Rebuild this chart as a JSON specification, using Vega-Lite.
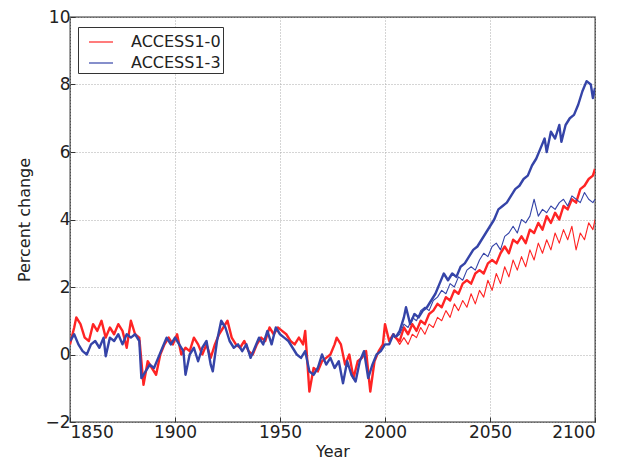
{
  "$schema": "https://vega.github.io/schema/vega-lite/v6.json",
  "width": 525,
  "height": 405,
  "autosize": {"type": "none"},
  "padding": {"left": 70, "top": 17, "right": 35, "bottom": 39},
  "background": "white",
  "config": {
    "view": {"stroke": "#333333", "strokeWidth": 1.3},
    "font": "DejaVu Sans",
    "axis": {
      "labelFont": "DejaVu Sans", "titleFont": "DejaVu Sans",
      "labelFontSize": 17, "titleFontSize": 16, "titleFontWeight": "normal",
      "labelColor": "#222222", "titleColor": "#222222",
      "domain": false, "grid": true, "gridColor": "#aaaaaa", "gridDash": [1, 2], "gridWidth": 1,
      "ticks": true, "tickColor": "#333333", "tickSize": -5, "tickWidth": 1
    }
  },
  "data": {"values": [
    {"model":"ACCESS1-0","run":"historical","year":1850,"pct":0.3},{"model":"ACCESS1-0","run":"historical","year":1852,"pct":0.8},{"model":"ACCESS1-0","run":"historical","year":1853,"pct":1.1},{"model":"ACCESS1-0","run":"historical","year":1855,"pct":0.9},{"model":"ACCESS1-0","run":"historical","year":1857,"pct":0.5},{"model":"ACCESS1-0","run":"historical","year":1859,"pct":0.4},{"model":"ACCESS1-0","run":"historical","year":1861,"pct":0.9},{"model":"ACCESS1-0","run":"historical","year":1863,"pct":0.7},{"model":"ACCESS1-0","run":"historical","year":1865,"pct":1.0},{"model":"ACCESS1-0","run":"historical","year":1867,"pct":0.5},{"model":"ACCESS1-0","run":"historical","year":1869,"pct":0.8},{"model":"ACCESS1-0","run":"historical","year":1871,"pct":0.6},{"model":"ACCESS1-0","run":"historical","year":1873,"pct":0.9},{"model":"ACCESS1-0","run":"historical","year":1875,"pct":0.7},{"model":"ACCESS1-0","run":"historical","year":1877,"pct":0.2},{"model":"ACCESS1-0","run":"historical","year":1879,"pct":1.0},{"model":"ACCESS1-0","run":"historical","year":1881,"pct":0.6},{"model":"ACCESS1-0","run":"historical","year":1883,"pct":0.5},{"model":"ACCESS1-0","run":"historical","year":1885,"pct":-0.9},{"model":"ACCESS1-0","run":"historical","year":1887,"pct":-0.2},{"model":"ACCESS1-0","run":"historical","year":1889,"pct":-0.4},{"model":"ACCESS1-0","run":"historical","year":1891,"pct":-0.6},{"model":"ACCESS1-0","run":"historical","year":1893,"pct":0.0},{"model":"ACCESS1-0","run":"historical","year":1895,"pct":0.3},{"model":"ACCESS1-0","run":"historical","year":1897,"pct":0.5},{"model":"ACCESS1-0","run":"historical","year":1899,"pct":0.3},{"model":"ACCESS1-0","run":"historical","year":1901,"pct":0.6},{"model":"ACCESS1-0","run":"historical","year":1903,"pct":0.0},{"model":"ACCESS1-0","run":"historical","year":1905,"pct":0.2},{"model":"ACCESS1-0","run":"historical","year":1907,"pct":0.1},{"model":"ACCESS1-0","run":"historical","year":1909,"pct":0.5},{"model":"ACCESS1-0","run":"historical","year":1911,"pct":0.3},{"model":"ACCESS1-0","run":"historical","year":1913,"pct":0.0},{"model":"ACCESS1-0","run":"historical","year":1915,"pct":0.3},{"model":"ACCESS1-0","run":"historical","year":1917,"pct":-0.1},{"model":"ACCESS1-0","run":"historical","year":1919,"pct":0.3},{"model":"ACCESS1-0","run":"historical","year":1921,"pct":0.6},{"model":"ACCESS1-0","run":"historical","year":1923,"pct":0.8},{"model":"ACCESS1-0","run":"historical","year":1925,"pct":1.0},{"model":"ACCESS1-0","run":"historical","year":1927,"pct":0.5},{"model":"ACCESS1-0","run":"historical","year":1929,"pct":0.3},{"model":"ACCESS1-0","run":"historical","year":1931,"pct":0.2},{"model":"ACCESS1-0","run":"historical","year":1933,"pct":0.4},{"model":"ACCESS1-0","run":"historical","year":1935,"pct":0.1},{"model":"ACCESS1-0","run":"historical","year":1937,"pct":0.0},{"model":"ACCESS1-0","run":"historical","year":1939,"pct":0.3},{"model":"ACCESS1-0","run":"historical","year":1941,"pct":0.5},{"model":"ACCESS1-0","run":"historical","year":1943,"pct":0.4},{"model":"ACCESS1-0","run":"historical","year":1945,"pct":0.8},{"model":"ACCESS1-0","run":"historical","year":1947,"pct":0.6},{"model":"ACCESS1-0","run":"historical","year":1949,"pct":0.8},{"model":"ACCESS1-0","run":"historical","year":1951,"pct":0.7},{"model":"ACCESS1-0","run":"historical","year":1953,"pct":0.6},{"model":"ACCESS1-0","run":"historical","year":1955,"pct":0.4},{"model":"ACCESS1-0","run":"historical","year":1957,"pct":0.3},{"model":"ACCESS1-0","run":"historical","year":1959,"pct":0.5},{"model":"ACCESS1-0","run":"historical","year":1961,"pct":0.3},{"model":"ACCESS1-0","run":"historical","year":1962,"pct":0.7},{"model":"ACCESS1-0","run":"historical","year":1964,"pct":-1.1},{"model":"ACCESS1-0","run":"historical","year":1966,"pct":-0.4},{"model":"ACCESS1-0","run":"historical","year":1968,"pct":-0.5},{"model":"ACCESS1-0","run":"historical","year":1970,"pct":-0.2},{"model":"ACCESS1-0","run":"historical","year":1972,"pct":-0.1},{"model":"ACCESS1-0","run":"historical","year":1974,"pct":0.0},{"model":"ACCESS1-0","run":"historical","year":1976,"pct":0.3},{"model":"ACCESS1-0","run":"historical","year":1977,"pct":0.5},{"model":"ACCESS1-0","run":"historical","year":1979,"pct":0.3},{"model":"ACCESS1-0","run":"historical","year":1981,"pct":-0.3},{"model":"ACCESS1-0","run":"historical","year":1983,"pct":0.0},{"model":"ACCESS1-0","run":"historical","year":1985,"pct":-0.7},{"model":"ACCESS1-0","run":"historical","year":1987,"pct":-0.2},{"model":"ACCESS1-0","run":"historical","year":1989,"pct":-0.1},{"model":"ACCESS1-0","run":"historical","year":1991,"pct":0.1},{"model":"ACCESS1-0","run":"historical","year":1993,"pct":-1.1},{"model":"ACCESS1-0","run":"historical","year":1995,"pct":-0.2},{"model":"ACCESS1-0","run":"historical","year":1997,"pct":0.1},{"model":"ACCESS1-0","run":"historical","year":1999,"pct":0.3},{"model":"ACCESS1-0","run":"historical","year":2000,"pct":0.9},{"model":"ACCESS1-0","run":"historical","year":2002,"pct":0.4},{"model":"ACCESS1-0","run":"historical","year":2004,"pct":0.6},{"model":"ACCESS1-0","run":"historical","year":2005,"pct":0.5},
    {"model":"ACCESS1-3","run":"historical","year":1850,"pct":0.4},{"model":"ACCESS1-3","run":"historical","year":1852,"pct":0.6},{"model":"ACCESS1-3","run":"historical","year":1854,"pct":0.3},{"model":"ACCESS1-3","run":"historical","year":1856,"pct":0.1},{"model":"ACCESS1-3","run":"historical","year":1858,"pct":0.0},{"model":"ACCESS1-3","run":"historical","year":1860,"pct":0.3},{"model":"ACCESS1-3","run":"historical","year":1862,"pct":0.4},{"model":"ACCESS1-3","run":"historical","year":1864,"pct":0.2},{"model":"ACCESS1-3","run":"historical","year":1866,"pct":0.5},{"model":"ACCESS1-3","run":"historical","year":1867,"pct":-0.05},{"model":"ACCESS1-3","run":"historical","year":1869,"pct":0.5},{"model":"ACCESS1-3","run":"historical","year":1871,"pct":0.4},{"model":"ACCESS1-3","run":"historical","year":1873,"pct":0.6},{"model":"ACCESS1-3","run":"historical","year":1875,"pct":0.3},{"model":"ACCESS1-3","run":"historical","year":1877,"pct":0.6},{"model":"ACCESS1-3","run":"historical","year":1879,"pct":0.5},{"model":"ACCESS1-3","run":"historical","year":1881,"pct":0.6},{"model":"ACCESS1-3","run":"historical","year":1883,"pct":0.4},{"model":"ACCESS1-3","run":"historical","year":1884,"pct":-0.7},{"model":"ACCESS1-3","run":"historical","year":1886,"pct":-0.5},{"model":"ACCESS1-3","run":"historical","year":1888,"pct":-0.3},{"model":"ACCESS1-3","run":"historical","year":1890,"pct":-0.4},{"model":"ACCESS1-3","run":"historical","year":1892,"pct":-0.1},{"model":"ACCESS1-3","run":"historical","year":1894,"pct":0.2},{"model":"ACCESS1-3","run":"historical","year":1896,"pct":0.5},{"model":"ACCESS1-3","run":"historical","year":1898,"pct":0.3},{"model":"ACCESS1-3","run":"historical","year":1900,"pct":0.5},{"model":"ACCESS1-3","run":"historical","year":1902,"pct":0.3},{"model":"ACCESS1-3","run":"historical","year":1904,"pct":0.1},{"model":"ACCESS1-3","run":"historical","year":1905,"pct":-0.6},{"model":"ACCESS1-3","run":"historical","year":1907,"pct":0.0},{"model":"ACCESS1-3","run":"historical","year":1909,"pct":0.2},{"model":"ACCESS1-3","run":"historical","year":1911,"pct":-0.2},{"model":"ACCESS1-3","run":"historical","year":1913,"pct":0.2},{"model":"ACCESS1-3","run":"historical","year":1915,"pct":0.4},{"model":"ACCESS1-3","run":"historical","year":1917,"pct":-0.3},{"model":"ACCESS1-3","run":"historical","year":1918,"pct":-0.5},{"model":"ACCESS1-3","run":"historical","year":1920,"pct":0.4},{"model":"ACCESS1-3","run":"historical","year":1922,"pct":1.0},{"model":"ACCESS1-3","run":"historical","year":1924,"pct":0.8},{"model":"ACCESS1-3","run":"historical","year":1926,"pct":0.4},{"model":"ACCESS1-3","run":"historical","year":1928,"pct":0.2},{"model":"ACCESS1-3","run":"historical","year":1930,"pct":0.3},{"model":"ACCESS1-3","run":"historical","year":1932,"pct":0.1},{"model":"ACCESS1-3","run":"historical","year":1934,"pct":0.3},{"model":"ACCESS1-3","run":"historical","year":1936,"pct":-0.1},{"model":"ACCESS1-3","run":"historical","year":1938,"pct":0.2},{"model":"ACCESS1-3","run":"historical","year":1940,"pct":0.5},{"model":"ACCESS1-3","run":"historical","year":1942,"pct":0.3},{"model":"ACCESS1-3","run":"historical","year":1944,"pct":0.7},{"model":"ACCESS1-3","run":"historical","year":1946,"pct":0.3},{"model":"ACCESS1-3","run":"historical","year":1948,"pct":0.8},{"model":"ACCESS1-3","run":"historical","year":1950,"pct":0.6},{"model":"ACCESS1-3","run":"historical","year":1952,"pct":0.5},{"model":"ACCESS1-3","run":"historical","year":1954,"pct":0.4},{"model":"ACCESS1-3","run":"historical","year":1956,"pct":0.2},{"model":"ACCESS1-3","run":"historical","year":1958,"pct":0.0},{"model":"ACCESS1-3","run":"historical","year":1960,"pct":-0.1},{"model":"ACCESS1-3","run":"historical","year":1962,"pct":0.1},{"model":"ACCESS1-3","run":"historical","year":1964,"pct":-0.5},{"model":"ACCESS1-3","run":"historical","year":1966,"pct":-0.6},{"model":"ACCESS1-3","run":"historical","year":1968,"pct":-0.4},{"model":"ACCESS1-3","run":"historical","year":1970,"pct":0.0},{"model":"ACCESS1-3","run":"historical","year":1972,"pct":-0.3},{"model":"ACCESS1-3","run":"historical","year":1974,"pct":-0.1},{"model":"ACCESS1-3","run":"historical","year":1976,"pct":-0.4},{"model":"ACCESS1-3","run":"historical","year":1978,"pct":-0.2},{"model":"ACCESS1-3","run":"historical","year":1980,"pct":-0.85},{"model":"ACCESS1-3","run":"historical","year":1982,"pct":-0.2},{"model":"ACCESS1-3","run":"historical","year":1984,"pct":-0.6},{"model":"ACCESS1-3","run":"historical","year":1986,"pct":-0.8},{"model":"ACCESS1-3","run":"historical","year":1988,"pct":-0.2},{"model":"ACCESS1-3","run":"historical","year":1990,"pct":0.1},{"model":"ACCESS1-3","run":"historical","year":1992,"pct":-0.7},{"model":"ACCESS1-3","run":"historical","year":1994,"pct":-0.3},{"model":"ACCESS1-3","run":"historical","year":1996,"pct":0.0},{"model":"ACCESS1-3","run":"historical","year":1998,"pct":0.1},{"model":"ACCESS1-3","run":"historical","year":2000,"pct":0.3},{"model":"ACCESS1-3","run":"historical","year":2002,"pct":0.3},{"model":"ACCESS1-3","run":"historical","year":2004,"pct":0.6},{"model":"ACCESS1-3","run":"historical","year":2005,"pct":0.5},
    {"model":"ACCESS1-3","run":"rcp85","year":2005,"pct":0.5},{"model":"ACCESS1-3","run":"rcp85","year":2007,"pct":0.7},{"model":"ACCESS1-3","run":"rcp85","year":2009,"pct":1.1},{"model":"ACCESS1-3","run":"rcp85","year":2010,"pct":1.4},{"model":"ACCESS1-3","run":"rcp85","year":2012,"pct":0.9},{"model":"ACCESS1-3","run":"rcp85","year":2014,"pct":1.2},{"model":"ACCESS1-3","run":"rcp85","year":2016,"pct":1.1},{"model":"ACCESS1-3","run":"rcp85","year":2018,"pct":1.3},{"model":"ACCESS1-3","run":"rcp85","year":2020,"pct":1.4},{"model":"ACCESS1-3","run":"rcp85","year":2022,"pct":1.6},{"model":"ACCESS1-3","run":"rcp85","year":2024,"pct":1.8},{"model":"ACCESS1-3","run":"rcp85","year":2026,"pct":2.1},{"model":"ACCESS1-3","run":"rcp85","year":2028,"pct":2.4},{"model":"ACCESS1-3","run":"rcp85","year":2030,"pct":2.2},{"model":"ACCESS1-3","run":"rcp85","year":2032,"pct":2.4},{"model":"ACCESS1-3","run":"rcp85","year":2034,"pct":2.3},{"model":"ACCESS1-3","run":"rcp85","year":2036,"pct":2.6},{"model":"ACCESS1-3","run":"rcp85","year":2038,"pct":2.7},{"model":"ACCESS1-3","run":"rcp85","year":2040,"pct":2.9},{"model":"ACCESS1-3","run":"rcp85","year":2042,"pct":3.1},{"model":"ACCESS1-3","run":"rcp85","year":2044,"pct":3.2},{"model":"ACCESS1-3","run":"rcp85","year":2046,"pct":3.4},{"model":"ACCESS1-3","run":"rcp85","year":2048,"pct":3.6},{"model":"ACCESS1-3","run":"rcp85","year":2050,"pct":3.8},{"model":"ACCESS1-3","run":"rcp85","year":2052,"pct":4.0},{"model":"ACCESS1-3","run":"rcp85","year":2054,"pct":4.3},{"model":"ACCESS1-3","run":"rcp85","year":2056,"pct":4.4},{"model":"ACCESS1-3","run":"rcp85","year":2058,"pct":4.5},{"model":"ACCESS1-3","run":"rcp85","year":2060,"pct":4.7},{"model":"ACCESS1-3","run":"rcp85","year":2062,"pct":4.9},{"model":"ACCESS1-3","run":"rcp85","year":2064,"pct":5.0},{"model":"ACCESS1-3","run":"rcp85","year":2066,"pct":5.2},{"model":"ACCESS1-3","run":"rcp85","year":2068,"pct":5.3},{"model":"ACCESS1-3","run":"rcp85","year":2070,"pct":5.6},{"model":"ACCESS1-3","run":"rcp85","year":2072,"pct":5.8},{"model":"ACCESS1-3","run":"rcp85","year":2074,"pct":6.1},{"model":"ACCESS1-3","run":"rcp85","year":2076,"pct":6.4},{"model":"ACCESS1-3","run":"rcp85","year":2077,"pct":6.0},{"model":"ACCESS1-3","run":"rcp85","year":2079,"pct":6.6},{"model":"ACCESS1-3","run":"rcp85","year":2081,"pct":6.4},{"model":"ACCESS1-3","run":"rcp85","year":2083,"pct":6.8},{"model":"ACCESS1-3","run":"rcp85","year":2084,"pct":6.3},{"model":"ACCESS1-3","run":"rcp85","year":2086,"pct":6.8},{"model":"ACCESS1-3","run":"rcp85","year":2088,"pct":7.0},{"model":"ACCESS1-3","run":"rcp85","year":2090,"pct":7.1},{"model":"ACCESS1-3","run":"rcp85","year":2092,"pct":7.4},{"model":"ACCESS1-3","run":"rcp85","year":2094,"pct":7.8},{"model":"ACCESS1-3","run":"rcp85","year":2096,"pct":8.1},{"model":"ACCESS1-3","run":"rcp85","year":2098,"pct":8.0},{"model":"ACCESS1-3","run":"rcp85","year":2099,"pct":7.6},{"model":"ACCESS1-3","run":"rcp85","year":2100,"pct":7.9},
    {"model":"ACCESS1-3","run":"rcp45","year":2005,"pct":0.5},{"model":"ACCESS1-3","run":"rcp45","year":2007,"pct":0.6},{"model":"ACCESS1-3","run":"rcp45","year":2009,"pct":0.9},{"model":"ACCESS1-3","run":"rcp45","year":2011,"pct":0.8},{"model":"ACCESS1-3","run":"rcp45","year":2013,"pct":1.1},{"model":"ACCESS1-3","run":"rcp45","year":2015,"pct":1.0},{"model":"ACCESS1-3","run":"rcp45","year":2017,"pct":1.3},{"model":"ACCESS1-3","run":"rcp45","year":2019,"pct":1.4},{"model":"ACCESS1-3","run":"rcp45","year":2021,"pct":1.3},{"model":"ACCESS1-3","run":"rcp45","year":2023,"pct":1.6},{"model":"ACCESS1-3","run":"rcp45","year":2025,"pct":1.7},{"model":"ACCESS1-3","run":"rcp45","year":2027,"pct":1.9},{"model":"ACCESS1-3","run":"rcp45","year":2029,"pct":1.8},{"model":"ACCESS1-3","run":"rcp45","year":2031,"pct":2.1},{"model":"ACCESS1-3","run":"rcp45","year":2033,"pct":2.0},{"model":"ACCESS1-3","run":"rcp45","year":2035,"pct":2.3},{"model":"ACCESS1-3","run":"rcp45","year":2037,"pct":2.2},{"model":"ACCESS1-3","run":"rcp45","year":2039,"pct":2.5},{"model":"ACCESS1-3","run":"rcp45","year":2041,"pct":2.6},{"model":"ACCESS1-3","run":"rcp45","year":2043,"pct":2.5},{"model":"ACCESS1-3","run":"rcp45","year":2045,"pct":2.8},{"model":"ACCESS1-3","run":"rcp45","year":2047,"pct":3.0},{"model":"ACCESS1-3","run":"rcp45","year":2049,"pct":2.9},{"model":"ACCESS1-3","run":"rcp45","year":2051,"pct":3.2},{"model":"ACCESS1-3","run":"rcp45","year":2053,"pct":3.3},{"model":"ACCESS1-3","run":"rcp45","year":2055,"pct":3.1},{"model":"ACCESS1-3","run":"rcp45","year":2057,"pct":3.5},{"model":"ACCESS1-3","run":"rcp45","year":2059,"pct":3.6},{"model":"ACCESS1-3","run":"rcp45","year":2061,"pct":3.8},{"model":"ACCESS1-3","run":"rcp45","year":2063,"pct":3.6},{"model":"ACCESS1-3","run":"rcp45","year":2065,"pct":4.0},{"model":"ACCESS1-3","run":"rcp45","year":2067,"pct":3.9},{"model":"ACCESS1-3","run":"rcp45","year":2069,"pct":4.1},{"model":"ACCESS1-3","run":"rcp45","year":2071,"pct":4.6},{"model":"ACCESS1-3","run":"rcp45","year":2073,"pct":4.1},{"model":"ACCESS1-3","run":"rcp45","year":2075,"pct":4.3},{"model":"ACCESS1-3","run":"rcp45","year":2077,"pct":4.2},{"model":"ACCESS1-3","run":"rcp45","year":2079,"pct":4.4},{"model":"ACCESS1-3","run":"rcp45","year":2081,"pct":4.3},{"model":"ACCESS1-3","run":"rcp45","year":2083,"pct":4.5},{"model":"ACCESS1-3","run":"rcp45","year":2085,"pct":4.6},{"model":"ACCESS1-3","run":"rcp45","year":2087,"pct":4.4},{"model":"ACCESS1-3","run":"rcp45","year":2089,"pct":4.7},{"model":"ACCESS1-3","run":"rcp45","year":2091,"pct":4.6},{"model":"ACCESS1-3","run":"rcp45","year":2093,"pct":4.5},{"model":"ACCESS1-3","run":"rcp45","year":2095,"pct":4.8},{"model":"ACCESS1-3","run":"rcp45","year":2097,"pct":4.6},{"model":"ACCESS1-3","run":"rcp45","year":2099,"pct":4.5},{"model":"ACCESS1-3","run":"rcp45","year":2100,"pct":4.6},
    {"model":"ACCESS1-0","run":"rcp85","year":2005,"pct":0.5},{"model":"ACCESS1-0","run":"rcp85","year":2007,"pct":0.4},{"model":"ACCESS1-0","run":"rcp85","year":2009,"pct":0.8},{"model":"ACCESS1-0","run":"rcp85","year":2011,"pct":0.6},{"model":"ACCESS1-0","run":"rcp85","year":2013,"pct":0.9},{"model":"ACCESS1-0","run":"rcp85","year":2015,"pct":0.7},{"model":"ACCESS1-0","run":"rcp85","year":2017,"pct":1.0},{"model":"ACCESS1-0","run":"rcp85","year":2019,"pct":0.9},{"model":"ACCESS1-0","run":"rcp85","year":2021,"pct":1.2},{"model":"ACCESS1-0","run":"rcp85","year":2023,"pct":1.3},{"model":"ACCESS1-0","run":"rcp85","year":2025,"pct":1.5},{"model":"ACCESS1-0","run":"rcp85","year":2027,"pct":1.4},{"model":"ACCESS1-0","run":"rcp85","year":2029,"pct":1.7},{"model":"ACCESS1-0","run":"rcp85","year":2031,"pct":1.6},{"model":"ACCESS1-0","run":"rcp85","year":2033,"pct":1.9},{"model":"ACCESS1-0","run":"rcp85","year":2035,"pct":1.8},{"model":"ACCESS1-0","run":"rcp85","year":2037,"pct":2.1},{"model":"ACCESS1-0","run":"rcp85","year":2039,"pct":2.2},{"model":"ACCESS1-0","run":"rcp85","year":2041,"pct":2.1},{"model":"ACCESS1-0","run":"rcp85","year":2043,"pct":2.4},{"model":"ACCESS1-0","run":"rcp85","year":2045,"pct":2.5},{"model":"ACCESS1-0","run":"rcp85","year":2047,"pct":2.4},{"model":"ACCESS1-0","run":"rcp85","year":2049,"pct":2.7},{"model":"ACCESS1-0","run":"rcp85","year":2051,"pct":2.8},{"model":"ACCESS1-0","run":"rcp85","year":2053,"pct":2.7},{"model":"ACCESS1-0","run":"rcp85","year":2055,"pct":3.0},{"model":"ACCESS1-0","run":"rcp85","year":2057,"pct":3.2},{"model":"ACCESS1-0","run":"rcp85","year":2059,"pct":3.0},{"model":"ACCESS1-0","run":"rcp85","year":2061,"pct":3.4},{"model":"ACCESS1-0","run":"rcp85","year":2063,"pct":3.3},{"model":"ACCESS1-0","run":"rcp85","year":2065,"pct":3.5},{"model":"ACCESS1-0","run":"rcp85","year":2067,"pct":3.3},{"model":"ACCESS1-0","run":"rcp85","year":2069,"pct":3.7},{"model":"ACCESS1-0","run":"rcp85","year":2071,"pct":3.6},{"model":"ACCESS1-0","run":"rcp85","year":2073,"pct":3.9},{"model":"ACCESS1-0","run":"rcp85","year":2075,"pct":3.7},{"model":"ACCESS1-0","run":"rcp85","year":2077,"pct":4.1},{"model":"ACCESS1-0","run":"rcp85","year":2079,"pct":3.9},{"model":"ACCESS1-0","run":"rcp85","year":2081,"pct":4.2},{"model":"ACCESS1-0","run":"rcp85","year":2083,"pct":4.0},{"model":"ACCESS1-0","run":"rcp85","year":2085,"pct":4.4},{"model":"ACCESS1-0","run":"rcp85","year":2087,"pct":4.3},{"model":"ACCESS1-0","run":"rcp85","year":2089,"pct":4.6},{"model":"ACCESS1-0","run":"rcp85","year":2091,"pct":4.5},{"model":"ACCESS1-0","run":"rcp85","year":2093,"pct":4.9},{"model":"ACCESS1-0","run":"rcp85","year":2095,"pct":5.0},{"model":"ACCESS1-0","run":"rcp85","year":2097,"pct":5.2},{"model":"ACCESS1-0","run":"rcp85","year":2099,"pct":5.3},{"model":"ACCESS1-0","run":"rcp85","year":2100,"pct":5.5},
    {"model":"ACCESS1-0","run":"rcp45","year":2005,"pct":0.5},{"model":"ACCESS1-0","run":"rcp45","year":2007,"pct":0.3},{"model":"ACCESS1-0","run":"rcp45","year":2009,"pct":0.5},{"model":"ACCESS1-0","run":"rcp45","year":2011,"pct":0.3},{"model":"ACCESS1-0","run":"rcp45","year":2013,"pct":0.6},{"model":"ACCESS1-0","run":"rcp45","year":2015,"pct":0.5},{"model":"ACCESS1-0","run":"rcp45","year":2017,"pct":0.8},{"model":"ACCESS1-0","run":"rcp45","year":2019,"pct":0.6},{"model":"ACCESS1-0","run":"rcp45","year":2021,"pct":0.9},{"model":"ACCESS1-0","run":"rcp45","year":2023,"pct":0.8},{"model":"ACCESS1-0","run":"rcp45","year":2025,"pct":1.1},{"model":"ACCESS1-0","run":"rcp45","year":2027,"pct":1.0},{"model":"ACCESS1-0","run":"rcp45","year":2029,"pct":1.3},{"model":"ACCESS1-0","run":"rcp45","year":2031,"pct":1.1},{"model":"ACCESS1-0","run":"rcp45","year":2033,"pct":1.5},{"model":"ACCESS1-0","run":"rcp45","year":2035,"pct":1.3},{"model":"ACCESS1-0","run":"rcp45","year":2037,"pct":1.6},{"model":"ACCESS1-0","run":"rcp45","year":2039,"pct":1.4},{"model":"ACCESS1-0","run":"rcp45","year":2041,"pct":1.8},{"model":"ACCESS1-0","run":"rcp45","year":2043,"pct":1.5},{"model":"ACCESS1-0","run":"rcp45","year":2045,"pct":1.9},{"model":"ACCESS1-0","run":"rcp45","year":2047,"pct":1.7},{"model":"ACCESS1-0","run":"rcp45","year":2049,"pct":2.2},{"model":"ACCESS1-0","run":"rcp45","year":2051,"pct":1.9},{"model":"ACCESS1-0","run":"rcp45","year":2053,"pct":2.4},{"model":"ACCESS1-0","run":"rcp45","year":2055,"pct":2.1},{"model":"ACCESS1-0","run":"rcp45","year":2057,"pct":2.6},{"model":"ACCESS1-0","run":"rcp45","year":2059,"pct":2.3},{"model":"ACCESS1-0","run":"rcp45","year":2061,"pct":2.8},{"model":"ACCESS1-0","run":"rcp45","year":2063,"pct":2.5},{"model":"ACCESS1-0","run":"rcp45","year":2065,"pct":2.9},{"model":"ACCESS1-0","run":"rcp45","year":2067,"pct":2.6},{"model":"ACCESS1-0","run":"rcp45","year":2069,"pct":3.1},{"model":"ACCESS1-0","run":"rcp45","year":2071,"pct":2.8},{"model":"ACCESS1-0","run":"rcp45","year":2073,"pct":3.3},{"model":"ACCESS1-0","run":"rcp45","year":2075,"pct":3.0},{"model":"ACCESS1-0","run":"rcp45","year":2077,"pct":3.4},{"model":"ACCESS1-0","run":"rcp45","year":2079,"pct":3.1},{"model":"ACCESS1-0","run":"rcp45","year":2081,"pct":3.6},{"model":"ACCESS1-0","run":"rcp45","year":2083,"pct":3.3},{"model":"ACCESS1-0","run":"rcp45","year":2085,"pct":3.7},{"model":"ACCESS1-0","run":"rcp45","year":2087,"pct":3.4},{"model":"ACCESS1-0","run":"rcp45","year":2089,"pct":3.8},{"model":"ACCESS1-0","run":"rcp45","year":2091,"pct":3.1},{"model":"ACCESS1-0","run":"rcp45","year":2093,"pct":3.6},{"model":"ACCESS1-0","run":"rcp45","year":2095,"pct":3.4},{"model":"ACCESS1-0","run":"rcp45","year":2097,"pct":3.9},{"model":"ACCESS1-0","run":"rcp45","year":2099,"pct":3.7},{"model":"ACCESS1-0","run":"rcp45","year":2100,"pct":4.0}
  ]},
  "encoding": {
    "x": {"field": "year", "type": "quantitative",
      "scale": {"domain": [1850, 2100], "nice": false, "zero": false},
      "axis": {"values": [1850, 1900, 1950, 2000, 2050, 2100], "format": "d", "title": "Year", "labelPadding": 7, "titlePadding": 3}},
    "y": {"field": "pct", "type": "quantitative",
      "scale": {"domain": [-2, 10], "nice": false, "zero": false},
      "axis": {"values": [-2, 0, 2, 4, 6, 8, 10], "title": "Percent change", "labelPadding": 5, "titlePadding": 12}},
    "color": {"field": "model", "type": "nominal",
      "scale": {"domain": ["ACCESS1-0", "ACCESS1-3"], "range": ["#ff2424", "#3544a8"]},
      "legend": {"title": null, "orient": "none", "legendX": 8, "legendY": 10,
        "symbolType": "stroke", "symbolSize": 576, "symbolStrokeWidth": 1.2, "symbolOffset": 8,
        "labelFont": "DejaVu Sans", "labelFontSize": 16, "labelColor": "#222222", "labelOffset": 17,
        "rowPadding": 0, "padding": 2, "strokeColor": "#333333", "fillColor": "white", "labelLimit": 200}},
    "detail": {"field": "run", "type": "nominal"}
  },
  "layer": [
    {"transform": [{"filter": "datum.run !== 'rcp45'"}],
     "mark": {"type": "line", "clip": true, "strokeJoin": "round", "strokeWidth": 2.4}},
    {"transform": [{"filter": "datum.run === 'rcp45'"}],
     "mark": {"type": "line", "clip": true, "strokeJoin": "round", "strokeWidth": 1.1}}
  ]
}
